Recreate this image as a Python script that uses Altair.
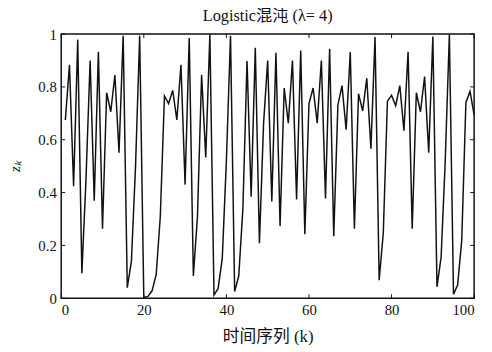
import altair as alt
import pandas as pd

k_values = list(range(1, 101))
z_values = [
    0.675, 0.884, 0.424, 0.979, 0.095, 0.45, 0.900, 0.369, 0.933, 0.263,
    0.778, 0.706, 0.845, 0.551, 0.994, 0.040, 0.140, 0.500, 0.994, 0.003,
    0.007, 0.028, 0.090, 0.310, 0.766, 0.737, 0.787, 0.675, 0.884, 0.430,
    0.985, 0.084, 0.310, 0.846, 0.533, 0.999, 0.012, 0.037, 0.150, 0.520,
    0.994, 0.025, 0.085, 0.340, 0.898, 0.384, 0.948, 0.208, 0.660, 0.900,
    0.366, 0.929, 0.273, 0.796, 0.663, 0.900, 0.374, 0.938, 0.242, 0.737,
    0.796, 0.663, 0.900, 0.378, 0.944, 0.235, 0.731, 0.805, 0.638, 0.932,
    0.263, 0.774, 0.709, 0.833, 0.566, 0.989, 0.068, 0.248, 0.746, 0.768,
    0.729, 0.805, 0.634, 0.933, 0.263, 0.778, 0.706, 0.839, 0.551, 0.991,
    0.043, 0.155, 0.520, 0.998, 0.015, 0.050, 0.220, 0.740, 0.783, 0.694,
]
x_ticks = [0, 20, 40, 60, 80, 100]
y_ticks = [0, 0.2, 0.4, 0.6, 0.8, 1]

W, H = 419, 268
FONT = "Liberation Serif, Times New Roman, Noto Sans CJK SC"

df = pd.DataFrame({"k": k_values, "z": z_values})
xt = pd.DataFrame({"t": x_ticks})
yt = pd.DataFrame({"t": y_ticks})

xscale = alt.Scale(domain=[0, 100], nice=False)
yscale = alt.Scale(domain=[0, 1], nice=False)

line = alt.Chart(df).mark_line(color="#111111", strokeWidth=1.5).encode(
    x=alt.X("k:Q", scale=xscale,
            axis=alt.Axis(values=x_ticks, title="时间序列 (k)", tickSize=0,
                          labelPadding=5, titlePadding=11, grid=False, domain=False,
                          titleFontSize=17)),
    y=alt.Y("z:Q", scale=yscale,
            axis=alt.Axis(values=y_ticks, format="~g", title="zₖ", tickSize=0,
                          labelPadding=5, titlePadding=16, grid=False, domain=False,
                          titleFontStyle="italic")),
)

xb = alt.Chart(xt).mark_rule(color="#111111", strokeWidth=1).encode(
    x=alt.X("t:Q", scale=xscale), y=alt.value(H), y2=alt.value(H - 4))
xtop = alt.Chart(xt).mark_rule(color="#111111", strokeWidth=1).encode(
    x=alt.X("t:Q", scale=xscale), y=alt.value(0), y2=alt.value(4))
yl = alt.Chart(yt).mark_rule(color="#111111", strokeWidth=1).encode(
    y=alt.Y("t:Q", scale=yscale), x=alt.value(0), x2=alt.value(4))
yr = alt.Chart(yt).mark_rule(color="#111111", strokeWidth=1).encode(
    y=alt.Y("t:Q", scale=yscale), x=alt.value(W), x2=alt.value(W - 4))

chart = alt.layer(line, xb, xtop, yl, yr).properties(
    width=W, height=H,
    background="white",
    title=alt.TitleParams("Logistic混沌 (λ= 4)", fontSize=16.5, font=FONT,
                          fontWeight="normal", color="#111111", offset=3),
    autosize=alt.AutoSizeParams(type="none"),
    padding={"left": 54, "top": 24, "right": 10, "bottom": 45},
).configure_view(
    stroke="#111111", strokeWidth=1.5
).configure_axis(
    labelFont=FONT, titleFont=FONT, labelFontSize=15, titleFontSize=15,
    labelColor="#111111", titleColor="#111111", titleFontWeight="normal",
)

chart.save("out.html", embed_options={"renderer": "svg", "actions": False})
